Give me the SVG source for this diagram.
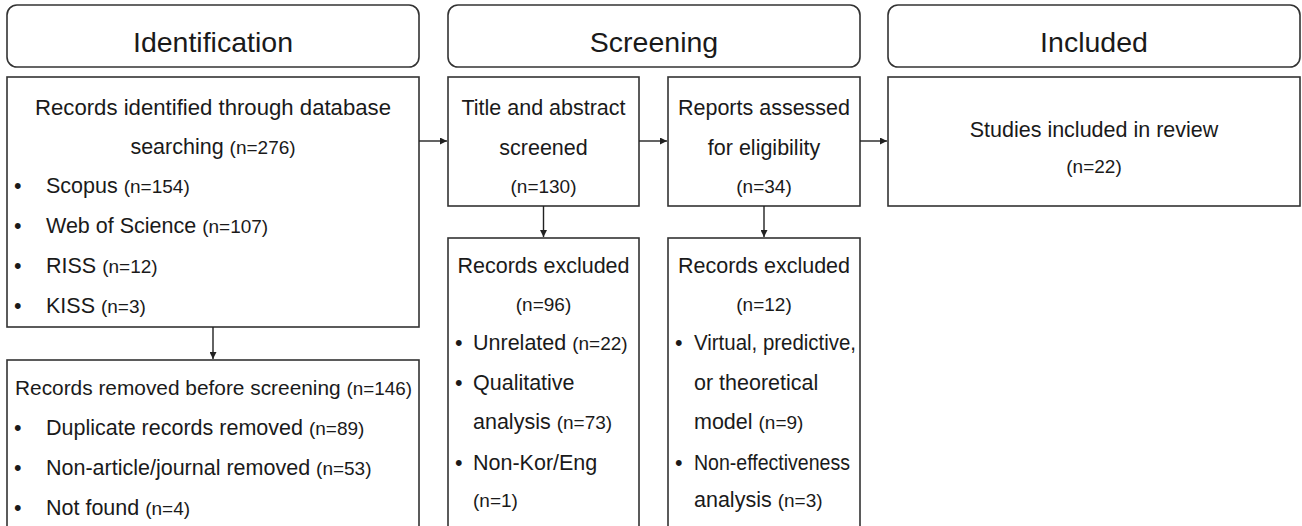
<svg xmlns="http://www.w3.org/2000/svg" width="1302" height="526" viewBox="0 0 1302 526">
<defs>
<style>
.hdr{fill:#fff;stroke:#333;stroke-width:1.6}
.box{fill:#fff;stroke:#333;stroke-width:1.6}
text{font-family:"Liberation Sans",Arial,sans-serif;fill:#1a1a1a}
.ht{font-size:28.5px;text-anchor:middle}
.t{font-size:21.5px}
.c{text-anchor:middle}
.n{font-size:19px}
.con{stroke:#222;stroke-width:1.4;fill:none;marker-end:url(#ah)}
</style>
<marker id="ah" viewBox="0 0 10 10" refX="10" refY="5" markerWidth="7" markerHeight="7" markerUnits="userSpaceOnUse" orient="auto">
<path d="M0,0 L10,5 L0,10 z" fill="#222"/>
</marker>
</defs>
<rect width="1302" height="526" fill="#fff"/>

<g id="hdr-identification">
<rect class="hdr" x="7" y="5" width="412" height="62" rx="10"/>
<text class="ht" x="213" y="52">Identification</text>
</g>
<g id="hdr-screening">
<rect class="hdr" x="448" y="5" width="412" height="62" rx="10"/>
<text class="ht" x="654" y="52">Screening</text>
</g>
<g id="hdr-included">
<rect class="hdr" x="888" y="5" width="412" height="62" rx="10"/>
<text class="ht" x="1094" y="52">Included</text>
</g>

<g id="identified">
<rect class="box" x="7" y="77" width="412" height="250"/>
<text class="t c" x="213" y="115" textLength="356" lengthAdjust="spacingAndGlyphs">Records identified through database</text>
<text class="t c" x="213" y="154">searching <tspan class="n">(n=276)</tspan></text>
<text class="t" x="14" y="193">•</text><text class="t" x="46" y="193">Scopus <tspan class="n">(n=154)</tspan></text>
<text class="t" x="14" y="233">•</text><text class="t" x="46" y="233">Web of Science <tspan class="n">(n=107)</tspan></text>
<text class="t" x="14" y="273">•</text><text class="t" x="46" y="273">RISS <tspan class="n">(n=12)</tspan></text>
<text class="t" x="14" y="313">•</text><text class="t" x="46" y="313">KISS <tspan class="n">(n=3)</tspan></text>
</g>

<g id="removed">
<rect class="box" x="7" y="360" width="412" height="180"/>
<text class="t" x="15" y="395" style="font-size:21px" textLength="397" lengthAdjust="spacingAndGlyphs">Records removed before screening <tspan class="n">(n=146)</tspan></text>
<text class="t" x="14" y="435">•</text><text class="t" x="46" y="435">Duplicate records removed <tspan class="n">(n=89)</tspan></text>
<text class="t" x="14" y="475">•</text><text class="t" x="46" y="475">Non-article/journal removed <tspan class="n">(n=53)</tspan></text>
<text class="t" x="14" y="515">•</text><text class="t" x="46" y="515">Not found <tspan class="n">(n=4)</tspan></text>
</g>

<g id="title-abstract">
<rect class="box" x="448" y="77" width="191" height="129"/>
<text class="t c" x="543.5" y="115">Title and abstract</text>
<text class="t c" x="543.5" y="155">screened</text>
<text class="t c n" x="543.5" y="193">(n=130)</text>
</g>

<g id="reports">
<rect class="box" x="668" y="77" width="192" height="129"/>
<text class="t c" x="764" y="115">Reports assessed</text>
<text class="t c" x="764" y="155">for eligibility</text>
<text class="t c n" x="764" y="193">(n=34)</text>
</g>

<g id="excluded1">
<rect class="box" x="448" y="238" width="191" height="300"/>
<text class="t c" x="543.5" y="273">Records excluded</text>
<text class="t c n" x="543.5" y="311">(n=96)</text>
<text class="t" x="455" y="350">•</text><text class="t" x="473" y="350">Unrelated <tspan class="n">(n=22)</tspan></text>
<text class="t" x="455" y="390">•</text><text class="t" x="473" y="390">Qualitative</text>
<text class="t" x="473" y="429">analysis <tspan class="n">(n=73)</tspan></text>
<text class="t" x="455" y="470">•</text><text class="t" x="473" y="470">Non-Kor/Eng</text>
<text class="t n" x="473" y="507">(n=1)</text>
</g>

<g id="excluded2">
<rect class="box" x="668" y="238" width="192" height="300"/>
<text class="t c" x="764" y="273">Records excluded</text>
<text class="t c n" x="764" y="311">(n=12)</text>
<text class="t" x="675" y="350">•</text><text class="t" x="694" y="350" textLength="162" lengthAdjust="spacingAndGlyphs">Virtual, predictive,</text>
<text class="t" x="694" y="390">or theoretical</text>
<text class="t" x="694" y="429">model <tspan class="n">(n=9)</tspan></text>
<text class="t" x="675" y="470">•</text><text class="t" x="694" y="470" textLength="156" lengthAdjust="spacingAndGlyphs">Non-effectiveness</text>
<text class="t" x="694" y="507">analysis <tspan class="n">(n=3)</tspan></text>
</g>

<g id="studies">
<rect class="box" x="888" y="77" width="412" height="129"/>
<text class="t c" x="1094" y="137">Studies included in review</text>
<text class="t c n" x="1094" y="173">(n=22)</text>
</g>

<g id="connectors">
<line class="con" x1="419" y1="141" x2="447" y2="141"/>
<line class="con" x1="639" y1="141" x2="667" y2="141"/>
<line class="con" x1="860" y1="141" x2="887" y2="141"/>
<line class="con" x1="213" y1="327" x2="213" y2="359"/>
<line class="con" x1="543.5" y1="206" x2="543.5" y2="237"/>
<line class="con" x1="764" y1="206" x2="764" y2="237"/>
</g>
</svg>
